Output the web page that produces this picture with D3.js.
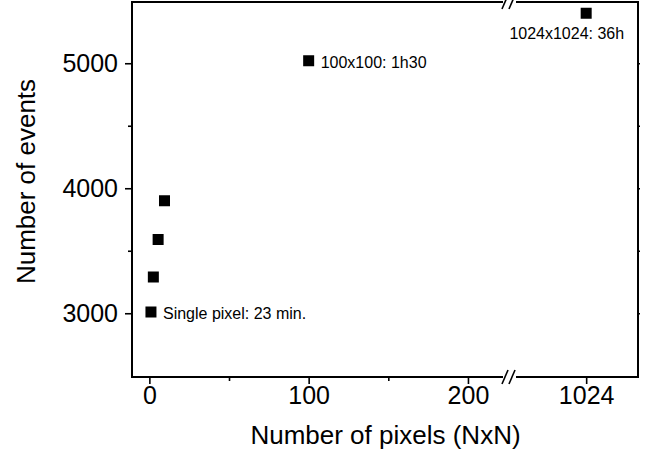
<!DOCTYPE html>
<html>
<head>
<meta charset="utf-8">
<script src="https://d3js.org/d3.v7.min.js"></script>
<style>
  body { margin: 0; background: #fff; }
  text { font-family: "Liberation Sans", Arial, sans-serif; fill: #000; }
</style>
</head>
<body>
<div id="chart"></div>
<script>
// data
const pixelsN = [1, 2.5, 5.5, 9.5, 100, 1024];
const events = [3010, 3290, 3590, 3900, 5020, 5400];
const notes = ["Single pixel: 23 min.", "", "", "", "100x100: 1h30", "1024x1024: 36h"];

const xTicksLow = [0, 100, 200];
const xMinorLow = [50, 150];
const xTicksHigh = [1024];
const yTicks = [3000, 4000, 5000];
const yMinor = [3500, 4500];
const yRightTicks = [3000, 3500, 4000, 4500, 5000];

const width = 653, height = 459;
const plotL = 132, plotR = 638, plotT = 2, plotB = 377;
const breakL = 503, breakR = 516;

const svg = d3.select("#chart").append("svg")
  .attr("width", width)
  .attr("height", height);

// broken x axis: two linear pieces
const xLow = d3.scaleLinear().domain([-10.9, 222]).range([plotL, breakL]);
const xHigh = d3.scaleLinear().domain([980, 1056.5]).range([breakR, plotR]);
const y = d3.scaleLinear().domain([2490, 5490]).range([plotB, plotT]);

const xPos = v => v > 500 ? xHigh(v) : xLow(v);

function styleAxis(g) {
  g.select(".domain").remove();
  g.selectAll(".tick line").attr("stroke", "#000").attr("stroke-width", 1.6);
  g.selectAll(".tick text").attr("fill", "#000").style("font-size", "25px")
    .style("font-family", "'Liberation Sans', Arial, sans-serif");
}

// x axis ticks
svg.append("g").attr("transform", `translate(0,${plotB})`)
  .call(d3.axisBottom(xLow).tickValues(xTicksLow).tickSize(7).tickPadding(2))
  .call(styleAxis);
svg.append("g").attr("transform", `translate(0,${plotB})`)
  .call(d3.axisBottom(xLow).tickValues(xMinorLow).tickSize(4).tickFormat(""))
  .call(styleAxis);
svg.append("g").attr("transform", `translate(0,${plotB})`)
  .call(d3.axisBottom(xHigh).tickValues(xTicksHigh).tickSize(7).tickPadding(2).tickFormat(d3.format("d")))
  .call(styleAxis);

// y axis ticks
svg.append("g").attr("transform", `translate(${plotL},0)`)
  .call(d3.axisLeft(y).tickValues(yTicks).tickSize(7).tickPadding(7).tickFormat(d3.format("d")))
  .call(styleAxis);
svg.append("g").attr("transform", `translate(${plotL},0)`)
  .call(d3.axisLeft(y).tickValues(yMinor).tickSize(4).tickFormat(""))
  .call(styleAxis);
svg.append("g").attr("transform", `translate(${plotR},0)`)
  .call(d3.axisRight(y).tickValues(yRightTicks).tickSize(2).tickFormat(""))
  .call(styleAxis);

// frame with breaks
const frame = svg.append("g").attr("stroke", "#000").attr("stroke-width", 2).attr("fill", "none");
frame.append("line").attr("x1", plotL).attr("x2", plotL).attr("y1", plotT - 1).attr("y2", plotB + 1);
frame.append("line").attr("x1", plotR).attr("x2", plotR).attr("y1", plotT - 1).attr("y2", plotB + 1);
[plotT, plotB].forEach(yy => {
  frame.append("line").attr("x1", plotL).attr("x2", breakL).attr("y1", yy).attr("y2", yy);
  frame.append("line").attr("x1", breakR).attr("x2", plotR).attr("y1", yy).attr("y2", yy);
  [breakL + 2, breakL + 9].forEach(cx => {
    frame.append("line")
      .attr("x1", cx - 3).attr("y1", yy + 7)
      .attr("x2", cx + 3).attr("y2", yy - 7)
      .attr("stroke-width", 1.6);
  });
});

// points
const pts = pixelsN.map((n, i) => ({ n, e: events[i], note: notes[i] }));
const m = 11;
svg.append("g").selectAll("rect")
  .data(pts)
  .join("rect")
  .attr("x", d => xPos(d.n) - m / 2)
  .attr("y", d => y(d.e) - m / 2)
  .attr("width", m)
  .attr("height", m)
  .attr("fill", "#000");

// annotations
svg.append("g").selectAll("text")
  .data(pts.filter(d => d.note))
  .join("text")
  .attr("x", d => d.n > 500 ? xPos(d.n) + 38 : xPos(d.n) + 12)
  .attr("y", d => d.n > 500 ? y(d.e) + 26 : y(d.e) + 7)
  .attr("text-anchor", d => d.n > 500 ? "end" : "start")
  .style("font-size", "16px")
  .text(d => d.note);

// axis titles
svg.append("text")
  .attr("x", 385.5)
  .attr("y", 444)
  .attr("text-anchor", "middle")
  .style("font-size", "26px")
  .text("Number of pixels (NxN)");

svg.append("text")
  .attr("transform", "translate(35,181.5) rotate(-90)")
  .attr("text-anchor", "middle")
  .style("font-size", "26px")
  .text("Number of events");
</script>
</body>
</html>
